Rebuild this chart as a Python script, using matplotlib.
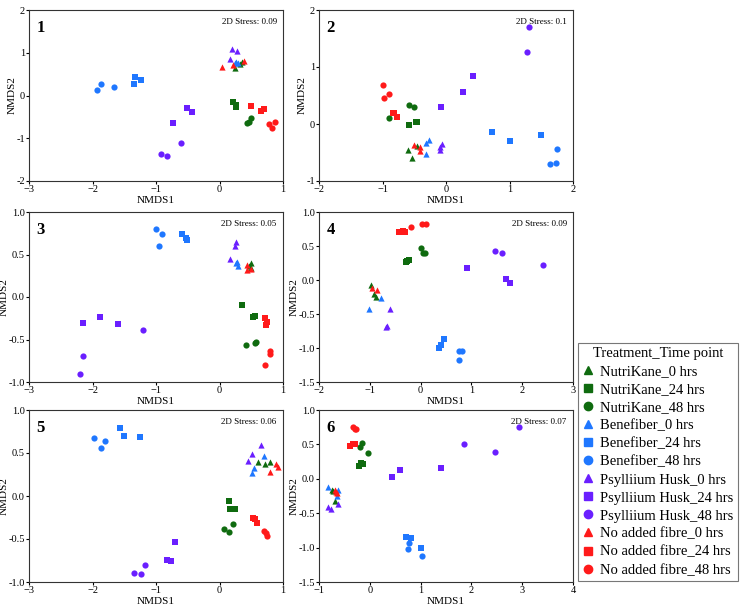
import matplotlib
matplotlib.use("Agg")
import matplotlib.pyplot as plt
from matplotlib.lines import Line2D

plt.rcParams['font.family'] = ['Liberation Serif', 'DejaVu Serif']

# Groups (treatment x time point)
groups = ["NutriKane_0 hrs", "NutriKane_24 hrs", "NutriKane_48 hrs",
          "Benefiber_0 hrs", "Benefiber_24 hrs", "Benefiber_48 hrs",
          "Psylliium Husk_0 hrs", "Psylliium Husk_24 hrs", "Psylliium Husk_48 hrs",
          "No added fibre_0 hrs", "No added fibre_24 hrs", "No added fibre_48 hrs"]
treat_colors = ["#0f6b0f", "#1f77ff", "#6a1fff", "#ff1a1a"]
time_markers = ["^", "s", "o"]

stress = ["0.09", "0.1", "0.05", "0.09", "0.06", "0.07"]

# NMDS coordinates per panel, one list per group (order as in groups)
p1_x = [[0.25, 0.32, 0.36], [0.21, 0.26, 0.26], [0.50, 0.47, 0.44],
        [0.24, 0.29, 0.26], [-1.33, -1.35, -1.23], [-1.93, -1.86, -1.66],
        [0.20, 0.28, 0.17], [-0.51, -0.43, -0.74], [-0.60, -0.92, -0.82],
        [0.04, 0.21, 0.39], [0.50, 0.66, 0.70], [0.78, 0.87, 0.83]]
p1_y = [[0.65, 0.74, 0.78], [-0.15, -0.22, -0.28], [-0.52, -0.63, -0.64],
        [0.77, 0.75, 0.79], [0.44, 0.27, 0.36], [0.13, 0.27, 0.19],
        [1.09, 1.04, 0.85], [-0.30, -0.39, -0.64], [-1.12, -1.36, -1.42],
        [0.66, 0.71, 0.81], [-0.25, -0.36, -0.32], [-0.67, -0.61, -0.75]]

p2_x = [[-0.60, -0.54, -0.45], [-0.58, -0.48, -0.45], [-0.58, -0.51, -0.90],
        [-0.31, -0.26, -0.31], [0.72, 1.01, 1.50], [1.75, 1.73, 1.64],
        [-0.06, -0.09, -0.10], [0.42, 0.27, -0.08], [1.31, 1.28],
        [-0.50, -0.41, -0.41], [-0.84, -0.77, -0.82], [-0.99, -0.97, -0.89]]
p2_y = [[-0.46, -0.59, -0.39], [-0.02, 0.03, 0.03], [0.33, 0.29, 0.10],
        [-0.34, -0.28, -0.53], [-0.14, -0.29, -0.19], [-0.44, -0.68, -0.71],
        [-0.35, -0.45, -0.41], [0.84, 0.56, 0.30], [1.70, 1.27],
        [-0.37, -0.41, -0.48], [0.19, 0.12, 0.20], [0.68, 0.46, 0.52]]

p3_x = [[0.49, 0.46, 0.50], [0.36, 0.52, 0.56], [0.42, 0.57, 0.56],
        [0.26, 0.29, 0.28], [-0.59, -0.53, -0.51], [-1.00, -0.91, -0.95],
        [0.26, 0.24, 0.17], [-2.15, -1.88, -1.60], [-1.21, -2.15, -2.19],
        [0.43, 0.43, 0.50], [0.71, 0.75, 0.73], [0.80, 0.79, 0.72]]
p3_y = [[0.40, 0.36, 0.34], [-0.09, -0.24, -0.22], [-0.57, -0.53, -0.54],
        [0.40, 0.37, 0.41], [0.74, 0.70, 0.67], [0.80, 0.74, 0.60],
        [0.65, 0.60, 0.45], [-0.31, -0.24, -0.32], [-0.39, -0.69, -0.91],
        [0.38, 0.32, 0.33], [-0.25, -0.29, -0.33], [-0.63, -0.67, -0.80]]

p4_x = [[-0.98, -0.92, -0.87], [-0.28, -0.23, -0.26], [0.01, 0.05, 0.09],
        [-0.77, -1.02], [0.47, 0.41, 0.37], [0.75, 0.81, 0.76],
        [-0.60, -0.69, -0.66], [0.91, 1.68, 1.75], [1.46, 1.60, 2.40],
        [-0.95, -0.85], [-0.42, -0.34, -0.31], [-0.19, 0.02, 0.10]]
p4_y = [[-0.08, -0.21, -0.25], [0.27, 0.30, 0.28], [0.47, 0.39, 0.40],
        [-0.26, -0.42], [-0.87, -0.96, -1.00], [-1.05, -1.05, -1.17],
        [-0.43, -0.69, -0.67], [0.18, 0.02, -0.04], [0.43, 0.40, 0.22],
        [-0.12, -0.14], [0.71, 0.72, 0.70], [0.78, 0.83, 0.83]]

p5_x = [[0.61, 0.71, 0.79], [0.15, 0.17, 0.24], [0.07, 0.21, 0.15],
        [0.70, 0.54, 0.51], [-1.57, -1.50, -1.25], [-1.97, -1.86, -1.81],
        [0.65, 0.51, 0.45], [-0.70, -0.83, -0.76], [-1.17, -1.35, -1.23],
        [0.89, 0.92, 0.79], [0.53, 0.56, 0.59], [0.70, 0.73, 0.75]]
p5_y = [[0.40, 0.37, 0.40], [-0.06, -0.15, -0.15], [-0.38, -0.32, -0.42],
        [0.46, 0.33, 0.27], [0.79, 0.70, 0.69], [0.68, 0.56, 0.64],
        [0.59, 0.49, 0.41], [-0.53, -0.74, -0.76], [-0.80, -0.90, -0.91],
        [0.37, 0.34, 0.28], [-0.25, -0.27, -0.31], [-0.41, -0.43, -0.46]]

p6_x = [[-0.74, -0.69, -0.73], [-0.22, -0.18, -0.14], [-0.20, -0.15, -0.03],
        [-0.82, -0.63, -0.65], [0.71, 0.82, 1.01], [0.78, 0.76, 1.03],
        [-0.82, -0.76, -0.62], [0.44, 0.59, 1.41], [1.86, 2.46, 2.93],
        [-0.69, -0.65, -0.67], [-0.38, -0.34, -0.29], [-0.33, -0.29, -0.27]]
p6_y = [[-0.16, -0.32, -0.18], [0.19, 0.23, 0.22], [0.46, 0.52, 0.37],
        [-0.12, -0.16, -0.25], [-0.84, -0.86, -1.00], [-0.94, -1.02, -1.12],
        [-0.41, -0.44, -0.37], [0.02, 0.13, 0.16], [0.51, 0.39, 0.75],
        [-0.17, -0.21, -0.19], [0.48, 0.51, 0.51], [0.75, 0.73, 0.72]]

panels_x = [p1_x, p2_x, p3_x, p4_x, p5_x, p6_x]
panels_y = [p1_y, p2_y, p3_y, p4_y, p5_y, p6_y]

# axis limits / ticks
xlims = [(-3, 1), (-2, 2), (-3, 1), (-2, 3), (-3, 1), (-1, 4)]
ylims = [(-2, 2), (-1, 2), (-1, 1), (-1.5, 1), (-1, 1), (-1.5, 1)]
yfmt = ["%d", "%d", "%.1f", "%.1f", "%.1f", "%.1f"]

fig = plt.figure(figsize=(7.43, 6.09), dpi=100)

W, H = 743.0, 609.0
lefts = [29, 319]
rows = [(10, 181), (212, 382), (410, 582)]

for i in range(6):
    r, c = divmod(i, 2)
    top, bot = rows[r]
    left = lefts[c]
    ax = fig.add_axes([left / W, (H - bot) / H, 254 / W, (bot - top) / H])

    for g in range(12):
        ax.scatter(panels_x[i][g], panels_y[i][g], s=20,
                   marker=time_markers[g % 3], color=treat_colors[g // 3],
                   linewidths=0, zorder=3)

    ax.set_xlim(*xlims[i])
    ax.set_ylim(*ylims[i])
    x0, x1 = xlims[i]
    ax.set_xticks(range(x0, x1 + 1))
    y0, y1 = ylims[i]
    if yfmt[i] == "%d":
        yt = list(range(int(y0), int(y1) + 1))
    else:
        n = int(round((y1 - y0) / 0.5))
        yt = [y0 + 0.5 * k for k in range(n + 1)]
    ax.set_yticks(yt)
    ax.set_yticklabels([yfmt[i] % v for v in yt])
    ax.tick_params(labelsize=7.5, length=2.5, width=0.8, pad=0.5)
    for sp in ax.spines.values():
        sp.set_linewidth(0.8)
        sp.set_color("#333333")

    ax.set_xlabel("NMDS1", fontsize=8, labelpad=1)
    ax.set_ylabel("NMDS2", fontsize=8, labelpad=0)

    ax.text(0.03, 0.94, str(i + 1), transform=ax.transAxes, fontsize=12,
            fontweight="bold", va="top", ha="left")
    ax.text(0.975, 0.955, "2D Stress: " + stress[i], transform=ax.transAxes,
            fontsize=6.5, va="top", ha="right")

# legend
handles = [Line2D([], [], linestyle="none", marker=time_markers[g % 3],
                  color=treat_colors[g // 3], markersize=6)
           for g in range(12)]
leg = fig.legend(handles, groups, title="Treatment_Time point",
                 loc="upper left", bbox_to_anchor=(578 / W, 1 - 343 / H),
                 fontsize=10.5, title_fontsize=10.5, frameon=True,
                 fancybox=False, handlelength=0.8, handletextpad=0.4,
                 labelspacing=0.33, borderpad=0.3, borderaxespad=0)
leg.get_frame().set_edgecolor("#555555")
leg.get_frame().set_linewidth(0.8)

fig.savefig("out.png", dpi=100)
